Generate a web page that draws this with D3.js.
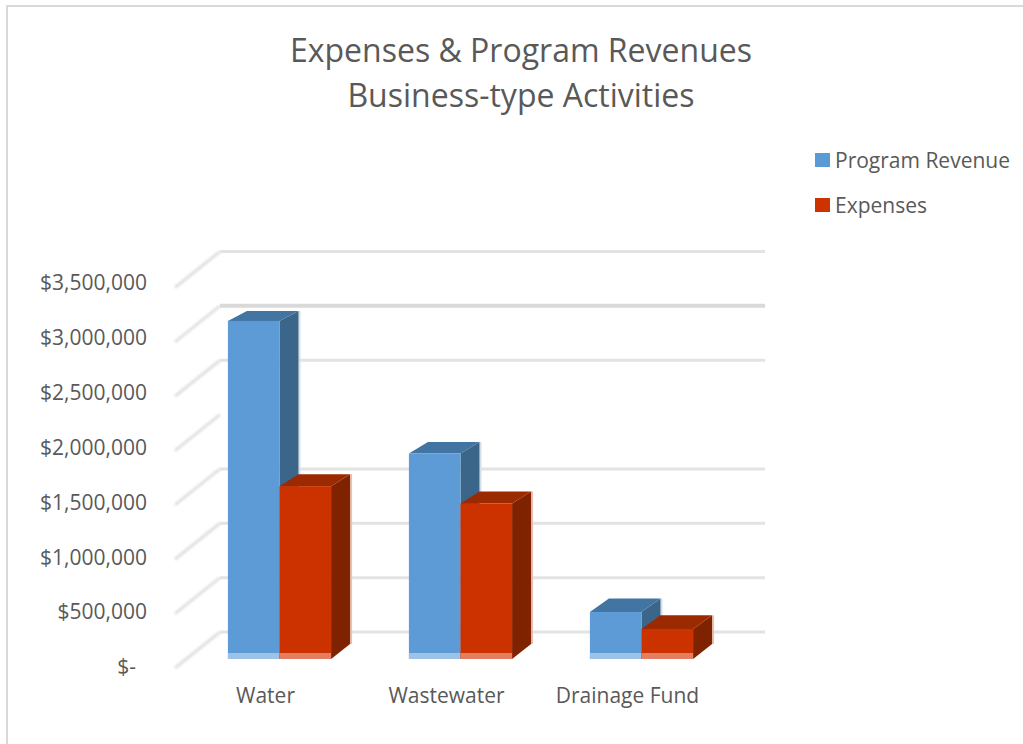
<!DOCTYPE html>
<html>
<head>
<meta charset="utf-8">
<script src="https://cdn.jsdelivr.net/npm/d3@7"></script>
<style>
    body { margin: 0; background: #fff; }
    svg { display: block; }
    text { font-family: "Open Sans", sans-serif; fill: #595959; }
    .axis path, .axis line { display: none; }
</style>
</head>
<body>
<div id="chart"></div>
<script>
// DATA
const categories = ["Water", "Wastewater", "Drainage Fund"];
const seriesNames = ["Program Revenue", "Expenses"];
const programRevenue = [3110000, 1890000, 432000];
const expenses = [1590000, 1430000, 276000];
const tickValues = [0, 500000, 1000000, 1500000, 2000000, 2500000, 3000000, 3500000];
const tickLabels = ["$-\u00a0\u00a0", "$500,000", "$1,000,000", "$1,500,000", "$2,000,000", "$2,500,000", "$3,000,000", "$3,500,000"];
const wallTicks = [0, 500000, 1000000, 1500000, 2500000, 3000000, 3500000]; // no 2M line on the back wall in the original
const titleLines = ["Expenses & Program Revenues", "Business-type Activities"];

const w = 1023, h = 744;
const colors = [
    { front: "#5b9bd5", top: "#4274a2", side: "#3b6589", foot: "#9cc3e6", halo: "#d3dfea" },
    { front: "#cc3300", top: "#9c2a00", side: "#7f2000", foot: "#e27f63", halo: "#e8c0b3" }
];

const svg = d3.select("#chart").append("svg").attr("width", w).attr("height", h);

const defs = svg.append("defs");
defs.append("filter").attr("id", "soft").append("feGaussianBlur").attr("stdDeviation", 0.6);
defs.append("filter").attr("id", "softer").append("feGaussianBlur").attr("stdDeviation", 1);

// SCALES
const y = d3.scaleLinear().domain([0, 3500000]).range([668, 287.5]);
const labelY = d3.scaleLinear().domain([0, 3500000]).range([667, 283]);
const x0 = d3.scaleBand().domain(categories).range([189, 732]).paddingInner(0.43).paddingOuter(0.215);
const x1 = d3.scaleBand().domain(seriesNames).range([0, x0.bandwidth()]);

// depth of the fake 3d
const wall = { x0: 175, x1: 220, right: 765, dy: -36 };
const barBase = -9;           // bars stand a little behind the front edge
const depthX = 19;
const depthY = d3.scaleLinear().domain([0, 3110000]).range([-14, -10]);

// chart area border
svg.append("path")
    .attr("d", d3.line()([[w, 6], [7, 6], [7, h]]))
    .attr("fill", "none").attr("stroke", "#d9d9d9").attr("stroke-width", 2);

// WALLS
const walls = svg.append("g").attr("filter", "url(#soft)");

walls.selectAll(".grid").data(wallTicks).enter().append("line")
    .attr("class", "grid")
    .attr("x1", wall.x1).attr("x2", wall.right)
    .attr("y1", d => y(d) + wall.dy).attr("y2", d => y(d) + wall.dy)
    .attr("stroke", d => d === 3000000 ? "#d9d9d9" : "#e3e3e3")
    .attr("stroke-width", d => d === 3000000 ? 4 : 3);

svg.append("g").attr("filter", "url(#softer)")
    .selectAll(".side").data(tickValues).enter().append("line")
    .attr("class", "side")
    .attr("x1", wall.x0).attr("x2", wall.x1)
    .attr("y1", d => y(d)).attr("y2", d => y(d) + wall.dy)
    .attr("stroke", "#e0e0e0").attr("stroke-width", 3);

// BARS
const rows = categories.map((c, i) => ({ category: c, values: [programRevenue[i], expenses[i]] }));

const groups = svg.append("g").attr("filter", "url(#soft)")
    .selectAll(".group").data(rows).enter().append("g")
    .attr("class", "group")
    .attr("transform", d => "translate(" + x0(d.category) + ",0)");

const bars = groups.selectAll(".bar")
    .data(d => d.values.map((v, i) => ({ value: v, i: i, name: seriesNames[i] })))
    .enter().append("g").attr("class", "bar");

const poly = d3.line();
const geo = d => {
    const l = x1(d.name), r = l + x1.bandwidth();
    const t = y(d.value) + barBase, b = y(0) + barBase;
    return { l, r, t, b, dy: depthY(d.value) };
};

bars.append("path") // soft edge behind the side face
    .attr("d", d => { const g = geo(d); return poly([[g.r + depthX + 1, g.t + g.dy], [g.r + depthX + 1, g.b - 15]]); })
    .attr("stroke", d => colors[d.i].halo).attr("stroke-width", 2).attr("fill", "none");

bars.append("path") // side face
    .attr("d", d => { const g = geo(d); return poly([[g.r, g.t], [g.r + depthX, g.t + g.dy], [g.r + depthX, g.b - 15], [g.r, g.b]]) + "Z"; })
    .attr("fill", d => colors[d.i].side);

bars.append("path") // top face
    .attr("d", d => { const g = geo(d); return poly([[g.l, g.t], [g.l + depthX, g.t + g.dy], [g.r + depthX, g.t + g.dy], [g.r, g.t]]) + "Z"; })
    .attr("fill", d => colors[d.i].top);

bars.append("rect") // front face
    .attr("x", d => x1(d.name))
    .attr("y", d => y(d.value) + barBase)
    .attr("width", x1.bandwidth())
    .attr("height", d => y(0) - y(d.value))
    .attr("fill", d => colors[d.i].front);

bars.append("rect") // pale strip at the foot
    .attr("x", d => x1(d.name))
    .attr("y", y(0) + barBase - 6)
    .attr("width", x1.bandwidth())
    .attr("height", 6)
    .attr("fill", d => colors[d.i].foot);

// AXES
svg.append("g")
    .attr("class", "axis")
    .attr("transform", "translate(147,0)")
    .call(d3.axisLeft(labelY).tickValues(tickValues).tickSize(0).tickPadding(0)
        .tickFormat((d, i) => tickLabels[i]))
    .selectAll("text").style("font-size", "21px").attr("fill", "#595959");

svg.append("g")
    .attr("class", "axis")
    .attr("transform", "translate(-14,688)")
    .call(d3.axisBottom(x0).tickSize(0).tickPadding(0))
    .selectAll("text").style("font-size", "21px").attr("fill", "#595959");

// TITLE
svg.append("g").selectAll("text").data(titleLines).enter().append("text")
    .attr("x", 521)
    .attr("y", (d, i) => 62 + i * 45)
    .attr("text-anchor", "middle")
    .style("font-size", "32px")
    .text(d => d);

// LEGEND
const legend = svg.append("g").selectAll("g").data(seriesNames).enter().append("g")
    .attr("transform", (d, i) => "translate(815," + (153 + i * 45) + ")");

legend.append("rect").attr("width", 15).attr("height", 14).attr("fill", (d, i) => colors[i].front);
legend.append("text").attr("x", 20).attr("y", 15).style("font-size", "21px").text(d => d);
</script>
</body>
</html>
